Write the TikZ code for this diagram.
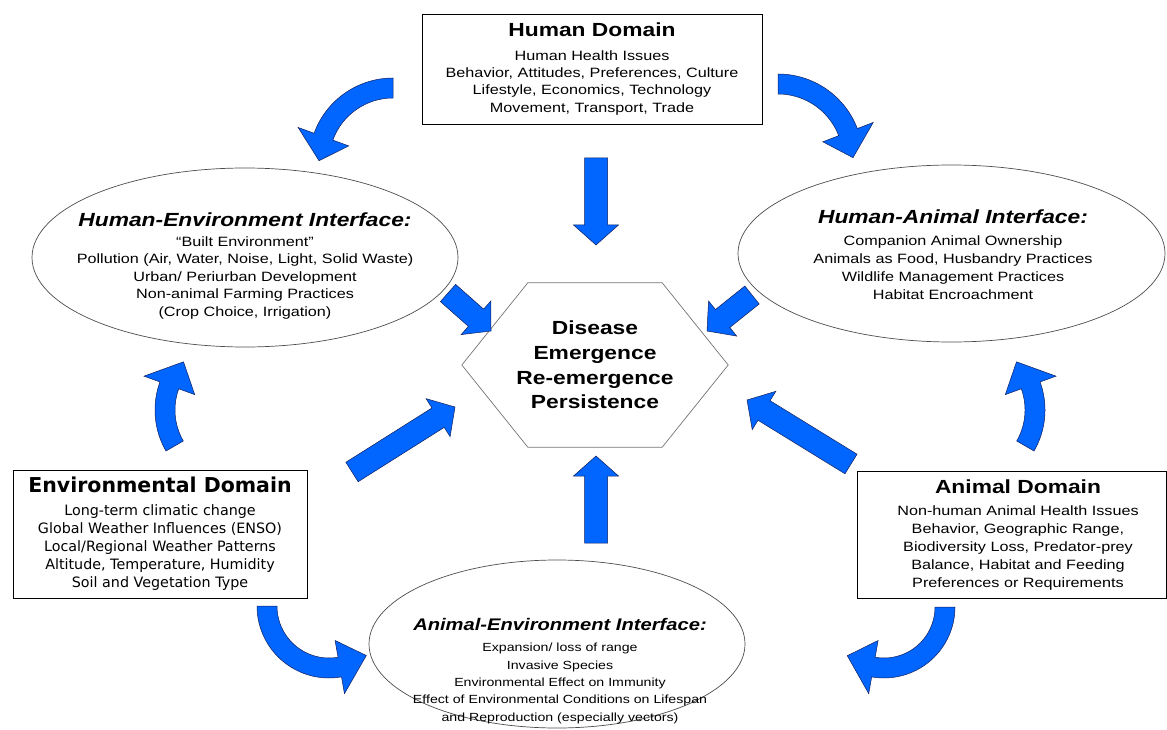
\documentclass[tikz,border=0pt]{standalone}
\usepackage{fontspec}
\setmainfont{Liberation Sans}[FakeStretch=1.2]
\newfontfamily\envfont{DejaVu Sans}
\usetikzlibrary{calc,shapes.geometric}

\definecolor{arrowblue}{RGB}{0,102,255}
\definecolor{arrowedge}{RGB}{20,30,90}

% straight block arrow from tail coordinate #1 to tip coordinate #2
\newcommand\blockarrow[2]{%
  \coordinate (ba-base) at ($(#2)!20pt!(#1)$);
  \filldraw[blockfill] ($(#1)!11.5pt!90:(#2)$) -- ($(ba-base)!11.5pt!-90:(#1)$)
    -- ($(ba-base)!22.5pt!-90:(#1)$) -- (#2) -- ($(ba-base)!22.5pt!90:(#1)$)
    -- ($(ba-base)!11.5pt!90:(#1)$) -- ($(#1)!11.5pt!-90:(#2)$) -- cycle;}

% bent block arrow: centre, radius, start angle, end angle, tip angle
\newcommand\bendarrow[5]{%
  \filldraw[blockfill, shift={#1}]
    plot[domain=#3:#4, samples=30] (\x:{#2+10})
    -- (#4:{#2+27}) -- (#5:#2) -- (#4:{#2-27})
    -- plot[domain=#4:#3, samples=30] (\x:{#2-10}) -- cycle;}

\begin{document}
\begin{tikzpicture}[x=1pt, y=-1pt,
    domainbox/.style={draw, line width=0.9pt, inner sep=0pt, align=center},
    iface/.style={draw=black!70, line width=0.7pt, ellipse, inner sep=0pt},
    blockfill/.style={fill=arrowblue, draw=arrowedge, line width=0.5pt},
    hexline/.style={draw=black!55, line width=0.7pt}]
\useasboundingbox (0,0) rectangle (1167,730);

    % Domains
    \node[domainbox, minimum width=340pt, minimum height=110pt,
          font=\fontsize{13.5}{17.3}\selectfont] (human) at (592,69)
        {{\fontsize{19}{22}\selectfont\bfseries Human Domain}\\[6pt]
         Human Health Issues\\
         Behavior, Attitudes, Preferences, Culture\\
         Lifestyle, Economics, Technology\\
         Movement, Transport, Trade};
    \node[domainbox, minimum width=294pt, minimum height=128pt,
          font=\envfont\fontsize{14.3}{18}\selectfont] (env) at (160,534)
        {{\fontsize{20.5}{24}\selectfont\bfseries Environmental Domain}\\[5pt]
         Long-term climatic change\\
         Global Weather Influences (ENSO)\\
         Local/Regional Weather Patterns\\
         Altitude, Temperature, Humidity\\
         Soil and Vegetation Type};
    \node[domainbox, minimum width=309pt, minimum height=127pt] (animal) at (1011.5,534.5) {};
    \node[align=center, font=\fontsize{13.5}{18}\selectfont] (animal-text) at (1018,535)
        {{\fontsize{19}{22}\selectfont\bfseries Animal Domain}\\[4pt]
         Non-human Animal Health Issues\\
         Behavior, Geographic Range,\\
         Biodiversity Loss, Predator-prey\\
         Balance, Habitat and Feeding\\
         Preferences or Requirements};

    % Centre
    \node[minimum width=266pt, minimum height=164pt, align=center,
          font=\fontsize{19}{24.7}\selectfont\bfseries] (hex) at (595,365)
        {Disease\\ Emergence\\ Re-emergence\\ Persistence};
    \draw[hexline] (hex.west) -- ($(hex.north west)+(66,0)$)
        -- ($(hex.north east)+(-66,0)$) -- (hex.east)
        -- ($(hex.south east)+(-66,0)$) -- ($(hex.south west)+(66,0)$) -- cycle;

    % Interfaces
    \node[iface, minimum width=426pt, minimum height=179pt] (he) at (245,257.5) {};
    \node[align=center, font=\fontsize{13.5}{17.6}\selectfont] (he-text) at (245,266)
        {{\fontsize{19}{22}\selectfont\bfseries\itshape Human-Environment Interface:}\\[2pt]
         ``Built Environment''\\
         Pollution (Air, Water, Noise, Light, Solid Waste)\\
         Urban/ Periurban Development\\
         Non-animal Farming Practices\\
         (Crop Choice, Irrigation)};
    \node[iface, minimum width=427pt, minimum height=177pt] (ha) at (951.5,253.5) {};
    \node[align=center, font=\fontsize{13.5}{18}\selectfont] (ha-text) at (953,255)
        {{\fontsize{19}{22}\selectfont\bfseries\itshape Human-Animal Interface:}\\[4pt]
         Companion Animal Ownership\\
         Animals as Food, Husbandry Practices\\
         Wildlife Management Practices\\
         Habitat Encroachment};
    \node[iface, minimum width=376pt, minimum height=168pt] (ae) at (557,644) {};
    \node[align=center, font=\fontsize{11.8}{17.3}\selectfont] (ae-text) at (560,671)
        {{\fontsize{16.8}{19}\selectfont\bfseries\itshape Animal-Environment Interface:}\\[4pt]
         Expansion/ loss of range\\
         Invasive Species\\
         Environmental Effect on Immunity\\
         Effect of Environmental Conditions on Lifespan\\
         and Reproduction (especially vectors)};

    % Arrows into the centre
    \coordinate (down-s) at (596,158); \coordinate (down-e) at (596,245);
    \coordinate (up-s) at (596,543);   \coordinate (up-e) at (596,456);
    \coordinate (ul-s) at (448,293);   \coordinate (ul-e) at (491,331);
    \coordinate (ur-s) at (752,295);   \coordinate (ur-e) at (707,331);
    \coordinate (ll-s) at (352,472);   \coordinate (ll-e) at (455,407);
    \coordinate (lr-s) at (851,464);   \coordinate (lr-e) at (747,400);
    \foreach \a in {down,up,ul,ur,ll,lr} {
        \blockarrow{\a-s}{\a-e}
    }

    % Arrows from the domains
    \foreach \cx/\cy/\rr/\sa/\ea/\ta in {393/162/74/-90/-160/-179,
                                        778/159/75/-90/-21/-1,
                                        237/410/72/150/200/222,
                                        963/410/72/30/-20/-42,
                                        329/606/62/180/80/53,
                                        884/607/61/0/100/127} {
        \bendarrow{(\cx,\cy)}{\rr}{\sa}{\ea}{\ta}
    }
\end{tikzpicture}
\end{document}
